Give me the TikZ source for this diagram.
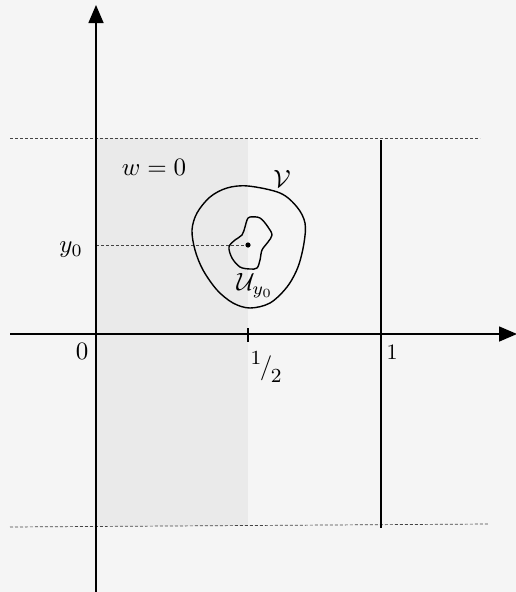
\documentclass[tikz,border=0pt]{standalone}
\usetikzlibrary{arrows.meta}
\definecolor{bgcol}{HTML}{F5F5F5}
\definecolor{shadecol}{HTML}{EAEAEA}
\definecolor{guidecol}{HTML}{444444}
\begin{document}
\begin{tikzpicture}[x=1pt,y=-1pt,
  axis/.style={line width=1.6pt,-{Triangle[length=18pt,width=15pt]}},
  solid line/.style={line width=1.4pt},
  guide/.style={line width=0.7pt,draw=guidecol,dash pattern=on 3pt off 2pt},
  lbl/.style={scale=2.5,inner sep=0pt}]
\fill[bgcol] (0,0) rectangle (516,592);
\useasboundingbox (0,0) rectangle (516,592);
\fill[shadecol] (96,138) rectangle (248,526);
% guides
\coordinate (tl) at (10,138); \coordinate (tr) at (480,138);
\coordinate (bl) at (10,527); \coordinate (br) at (488,524);
\draw[guide] (tl) -- (tr);
\draw[guide] (bl) -- (br);
\coordinate (ya) at (96,245); \coordinate (pt) at (248,245);
\draw[guide] (ya) -- (pt);
% vertical line at 1
\coordinate (v1) at (381,140); \coordinate (v2) at (381,528);
\draw[solid line] (v1) -- (v2);
% axes
\coordinate (xs) at (10,334); \coordinate (xe) at (517,334);
\coordinate (ys) at (96,592); \coordinate (ye) at (96,5);
\draw[axis] (xs) -- (xe);
\draw[axis] (ys) -- (ye);
% tick
\coordinate (t1) at (248,328); \coordinate (t2) at (248,342);
\draw[solid line] (t1) -- (t2);
% V curve
\draw[solid line] plot[smooth cycle,tension=0.55] coordinates {
 (248,186) (280,193) (297,207) (305,223) (304,243) (298,267) (287,287) (270,303) (250,308) (233,303) (217,290) (203,270) (195,250) (192,230) (197,213) (210,197) (227,188)};
% U curve
\draw[solid line] plot[smooth cycle,tension=0.55] coordinates {
 (250,217) (260,218) (268,227) (272,235) (268,242) (262,250) (260,260) (257,268) (250,269) (240,267) (232,258) (229,247) (235,240) (242,235) (245,227) (247,220)};
\fill (pt) circle (2.6pt);
% labels
\node[lbl] (w0) at (154,167) {$w = 0$};
\node[lbl] (V) at (282,179) {$\mathcal{V}$};
\node[lbl] (Uy) at (255,286) {$\mathcal{U}_{y_0}$};
\node[lbl] (y0) at (71,250) {$y_0$};
\node[lbl] (o) at (82,351) {$0$};
\node[lbl] (half) at (266,367) {\raisebox{4pt}{\footnotesize 1}\kern-0.6pt/\kern-0.6pt\raisebox{-3pt}{\footnotesize 2}};
\node[lbl,scale=0.88] (one) at (392,352) {$1$};
\end{tikzpicture}
\end{document}
